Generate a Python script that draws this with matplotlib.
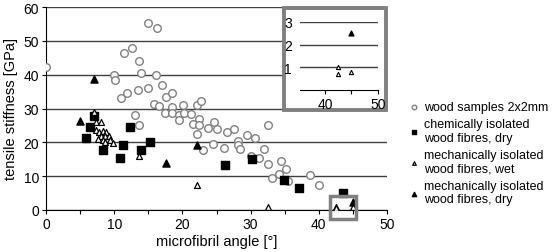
import matplotlib

matplotlib.use("Agg")
import matplotlib.pyplot as plt  # noqa: E402
from matplotlib.patches import Rectangle  # noqa: E402

# wood samples 2x2mm (open circles)
wood_x = [0.0, 14.9, 16.3, 11.5, 12.6, 13.6, 10.0, 10.1, 14.0, 16.1, 17.0, 11.0, 11.9,
          13.5, 14.9, 17.6, 18.5, 15.9, 16.6, 17.4, 18.5, 18.5, 20.1, 19.5, 19.5, 20.3,
          21.2, 22.4, 22.2, 22.7, 21.5, 22.4, 22.1, 23.7, 24.6, 25.1, 26.5, 27.6, 23.0,
          24.5, 26.1, 28.2, 28.1, 28.5, 29.5, 30.7, 32.6, 32.0, 30.0, 31.2, 32.5, 34.5,
          35.2, 34.1, 33.1, 35.5, 38.7, 40.0, 13.0, 13.6]
wood_y = [42.3, 55.3, 53.7, 46.4, 47.9, 44.1, 40.0, 38.4, 40.5, 39.8, 36.9, 33.1, 34.6,
          35.6, 36.0, 33.4, 34.6, 31.2, 30.6, 28.8, 30.4, 28.6, 31.1, 28.1, 26.7, 28.8,
          28.3, 27.0, 31.0, 32.1, 25.4, 25.0, 22.6, 24.3, 26.0, 23.8, 23.1, 23.9, 17.6,
          19.5, 18.2, 20.3, 19.1, 18.0, 22.2, 21.3, 25.0, 18.0, 15.9, 15.5, 13.6, 14.5,
          12.2, 10.6, 9.4, 8.5, 10.4, 7.4, 28.2, 25.2]

# chemically isolated wood fibres, dry (filled squares)
chem_x = [5.8, 6.4, 7.0, 8.4, 10.9, 11.3, 12.3, 13.9, 15.3, 26.2, 30.2, 34.9, 37.1, 43.5]
chem_y = [21.2, 24.4, 27.7, 17.8, 15.3, 19.2, 24.4, 17.7, 20.0, 13.4, 15.2, 9.0, 6.5, 5.0]

# mechanically isolated wood fibres, wet (open triangles)
wet_x = [7.0, 7.3, 8.0, 7.3, 7.7, 8.3, 8.8, 8.0, 8.6, 9.2, 7.6, 8.4, 9.4, 8.6, 9.8,
         13.7, 22.1, 32.5, 42.5, 42.5, 45.0]
wet_y = [29.1, 26.0, 26.0, 23.7, 23.0, 23.3, 23.0, 22.0, 22.0, 21.8, 21.0, 20.6, 20.8,
         20.0, 19.8, 15.9, 7.5, 0.8, 1.0, 0.7, 0.8]

# mechanically isolated wood fibres, dry (filled triangles)
mdry_x = [5.0, 7.0, 17.6, 22.1, 45.0]
mdry_y = [26.3, 38.8, 13.9, 19.2, 2.5]

labels = ["wood samples 2x2mm",
          "chemically isolated\nwood fibres, dry",
          "mechanically isolated\nwood fibres, wet",
          "mechanically isolated\nwood fibres, dry"]

W, H = 553, 253
plt.rcParams["font.family"] = ["Liberation Sans", "DejaVu Sans"]
fig = plt.figure(figsize=(W / 100, H / 100), dpi=100)


def fx(px):
    return px / W


def fy(py):
    return 1 - py / H


ax = fig.add_axes([fx(46), fy(211), fx(387) - fx(46), fy(8) - fy(211)])
ax.scatter(wood_x, wood_y, s=30, facecolors="white", edgecolors="#808080",
           linewidths=1.0, label=labels[0], zorder=3)
ax.scatter(chem_x, chem_y, s=26, marker="s", color="black", label=labels[1], zorder=4)
ax.scatter(wet_x, wet_y, s=18, marker="^", facecolors="white", edgecolors="black",
           linewidths=0.9, label=labels[2], zorder=4)
ax.scatter(mdry_x, mdry_y, s=26, marker="^", color="black", label=labels[3], zorder=4)

ax.set_xlim(0, 50)
ax.set_ylim(0, 60)
ax.set_xticks(range(0, 51, 10))
ax.set_xticks(range(5, 50, 10), minor=True)
ax.set_yticks(range(0, 61, 10))
ax.yaxis.grid(True, color="#404040", linewidth=1.0)
ax.set_axisbelow(True)
for s in ("top", "right"):
    ax.spines[s].set_visible(False)
for s in ("left", "bottom"):
    ax.spines[s].set_color("black")
ax.tick_params(labelsize=10, length=3, width=0.8, colors="black", pad=2)
ax.tick_params(which="minor", length=3, width=0.8)
ax.set_xlabel("microfibril angle [°]", fontsize=10.5, labelpad=2)
ax.set_ylabel("tensile stiffness [GPa]", fontsize=10.5, labelpad=4)

ax.add_patch(Rectangle((41.7, -2.6), 3.8, 6.7, fill=False, edgecolor="#808080",
                       linewidth=2.5, clip_on=False, zorder=5))

leg = ax.legend(loc="upper left", bbox_to_anchor=(fx(403), fy(97)),
                bbox_transform=fig.transFigure, frameon=False, fontsize=9,
                handletextpad=0.3, labelspacing=0.4, borderaxespad=0,
                handlelength=1.0, markerscale=0.6)

# inset zoom of the lower right corner
fig.add_artist(Rectangle((fx(284), fy(111)), fx(386) - fx(284), fy(9) - fy(111),
                         transform=fig.transFigure, fill=True, facecolor="white",
                         edgecolor="#808080", linewidth=2.8, zorder=6))
ins = fig.add_axes([fx(300), fy(91), fx(378) - fx(300), fy(23) - fy(91)], zorder=7)
ins.patch.set_alpha(0)
ins.scatter(wet_x, wet_y, s=9, marker="^", facecolors="white", edgecolors="black",
            linewidths=0.8, zorder=4)
ins.scatter(mdry_x, mdry_y, s=12, marker="^", color="black", zorder=4)
ins.set_xlim(35.3, 50)
ins.set_ylim(0, 3)
ins.set_xticks([40, 50])
ins.set_xticks([45], minor=True)
ins.set_yticks([1, 2, 3])
ins.yaxis.grid(True, color="#404040", linewidth=1.0)
for s in ("top", "right", "left"):
    ins.spines[s].set_visible(False)
ins.tick_params(labelsize=10, length=3, width=0.8, pad=2)
ins.tick_params(axis="y", length=0, pad=6)
ins.tick_params(which="minor", length=3, width=0.8)

fig.savefig("out.png", dpi=100)
